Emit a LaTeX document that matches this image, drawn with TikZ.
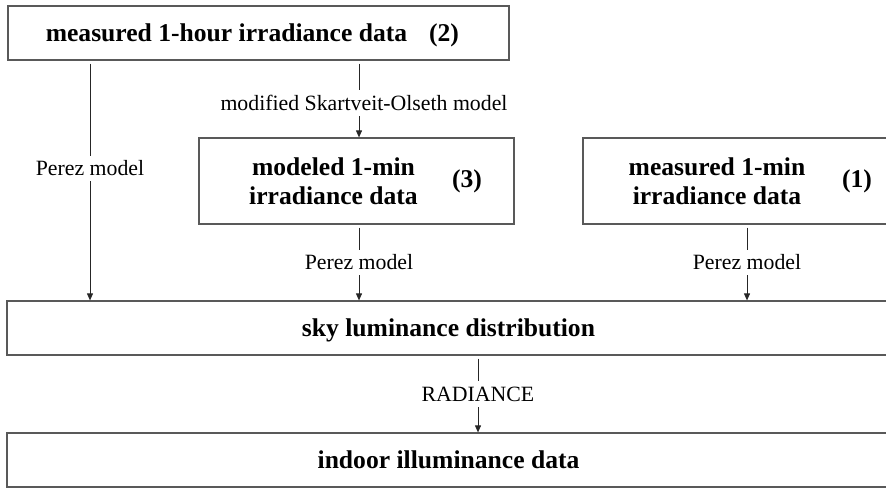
\documentclass[tikz,border=0pt]{standalone}
\usepackage{fontspec}
\setmainfont{Liberation Serif}
\usetikzlibrary{arrows.meta}

\begin{document}
\begin{tikzpicture}[x=1pt, y=-1pt]

\tikzstyle{box}=[draw=black!65, line width=1.2pt, inner sep=0pt]
\tikzstyle{big}=[font=\fontsize{25.6}{29}\selectfont\bfseries, align=center, inner sep=0pt]
\tikzstyle{lab}=[font=\fontsize{21.8}{24}\selectfont, fill=white, inner xsep=2pt, inner ysep=5pt, text height=15pt, text depth=0.5pt]
\tikzstyle{edge}=[draw=black!85, line width=0.9pt, shorten <=3pt, -{Triangle[length=7pt, width=6pt]}]

\useasboundingbox (0,0) rectangle (886,488);

\node [box, minimum width=501pt, minimum height=54pt] (hour)   at (258.5, 33) {};
\node [box, minimum width=315pt, minimum height=86pt] (model3) at (356.5,181) {};
\node [box, minimum width=307pt, minimum height=86pt] (meas1)  at (736.5,181) {};
\node [box, big, text depth=0pt, minimum width=883pt, minimum height=54pt] (sky)    at (448.5,328) {sky luminance distribution};
\node [box, big, text depth=0pt, minimum width=883pt, minimum height=54pt] (indoor) at (448.5,460) {indoor illuminance data};

\node [big, anchor=base] (hourtxt) at (226.5,41.5) {measured 1-hour irradiance data};
\node [big, anchor=base] (hournum) at (444,41.5) {(2)};
\node [big] (model3txt) at (333.5,181) {modeled 1-min\\irradiance data};
\node [big] (model3num) at (467,181) {(3)};
\node [big] (meas1txt)  at (717,181) {measured 1-min\\irradiance data};
\node [big] (meas1num)  at (857,181) {(1)};

\coordinate (colA) at (90,0);
\coordinate (colB) at (359,0);
\coordinate (colC) at (747,0);
\coordinate (colD) at (478,0);

\path [edge] (hour.south -| colA) -- node [lab, pos=.45] (perezA) {Perez model} (sky.north -| colA);
\path [edge] (hour.south -| colB) -- node [lab, pos=.55, xshift=5pt] (skart) {modified Skartveit-Olseth model} (model3.north -| colB);
\path [edge] (model3.south -| colB) -- node [lab] (perezB) {Perez model} (sky.north -| colB);
\path [edge] (meas1.south -| colC) -- node [lab] (perezC) {Perez model} (sky.north -| colC);
\path [edge] (sky.south -| colD) -- node [lab] (radiance) {RADIANCE} (indoor.north -| colD);

\end{tikzpicture}
\end{document}
